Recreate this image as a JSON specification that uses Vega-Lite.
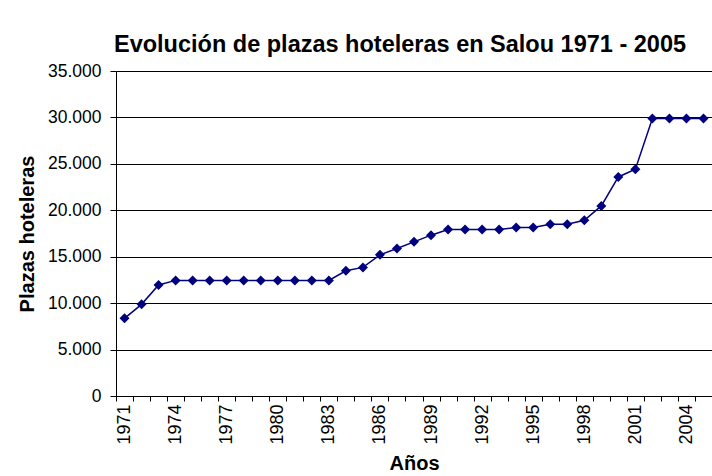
{
  "$schema": "https://vega.github.io/schema/vega-lite/v6.json",
  "width": 596,
  "height": 325,
  "autosize": {"type": "none"},
  "padding": {"left": 116, "top": 71, "right": 0, "bottom": 80},
  "background": "white",
  "title": {
    "text": "Evolución de plazas hoteleras en Salou 1971 - 2005",
    "font": "Liberation Sans",
    "fontSize": 23.5,
    "fontWeight": "bold",
    "color": "black",
    "anchor": "middle",
    "dx": -14,
    "offset": 6
  },
  "data": {
    "values": [
      {"year": 1971, "plazas": 8360},
      {"year": 1972, "plazas": 9870},
      {"year": 1973, "plazas": 11950},
      {"year": 1974, "plazas": 12450},
      {"year": 1975, "plazas": 12450},
      {"year": 1976, "plazas": 12450},
      {"year": 1977, "plazas": 12450},
      {"year": 1978, "plazas": 12450},
      {"year": 1979, "plazas": 12450},
      {"year": 1980, "plazas": 12450},
      {"year": 1981, "plazas": 12450},
      {"year": 1982, "plazas": 12450},
      {"year": 1983, "plazas": 12450},
      {"year": 1984, "plazas": 13480},
      {"year": 1985, "plazas": 13850},
      {"year": 1986, "plazas": 15200},
      {"year": 1987, "plazas": 15890},
      {"year": 1988, "plazas": 16600},
      {"year": 1989, "plazas": 17320},
      {"year": 1990, "plazas": 17930},
      {"year": 1991, "plazas": 17930},
      {"year": 1992, "plazas": 17930},
      {"year": 1993, "plazas": 17930},
      {"year": 1994, "plazas": 18150},
      {"year": 1995, "plazas": 18150},
      {"year": 1996, "plazas": 18500},
      {"year": 1997, "plazas": 18500},
      {"year": 1998, "plazas": 18930},
      {"year": 1999, "plazas": 20470},
      {"year": 2000, "plazas": 23590},
      {"year": 2001, "plazas": 24420},
      {"year": 2002, "plazas": 29880},
      {"year": 2003, "plazas": 29880},
      {"year": 2004, "plazas": 29880},
      {"year": 2005, "plazas": 29880}
    ]
  },
  "encoding": {
    "x": {
      "field": "year",
      "type": "ordinal",
      "scale": {"type": "band", "paddingInner": 0, "paddingOuter": 0},
      "axis": {
        "title": "Años",
        "titleFont": "Liberation Sans",
        "titleFontSize": 20,
        "titleFontWeight": "bold",
        "titleColor": "black",
        "titlePadding": 9,
        "labelFont": "Liberation Sans",
        "labelFontSize": 18,
        "labelColor": "black",
        "labelAngle": -90,
        "labelAlign": "right",
        "labelBaseline": "middle",
        "labelPadding": 3,
        "labelOverlap": false,
        "labelExpr": "(datum.value - 1971) % 3 == 0 ? datum.label : ''",
        "tickBand": "extent",
        "tickColor": "black",
        "tickSize": 5,
        "domainColor": "black",
        "grid": false
      }
    },
    "y": {
      "field": "plazas",
      "type": "quantitative",
      "scale": {"domain": [0, 35000], "nice": false},
      "axis": {
        "title": "Plazas hoteleras",
        "titleFont": "Liberation Sans",
        "titleFontSize": 20,
        "titleFontWeight": "bold",
        "titleColor": "black",
        "titlePadding": 10,
        "labelFont": "Liberation Sans",
        "labelFontSize": 17.5,
        "labelColor": "black",
        "labelPadding": 9,
        "values": [0, 5000, 10000, 15000, 20000, 25000, 30000, 35000],
        "labelExpr": "replace(format(datum.value, ',d'), ',', '.')",
        "tickColor": "black",
        "tickSize": 6,
        "domainColor": "black",
        "grid": true,
        "gridColor": "black",
        "gridOpacity": 1,
        "gridWidth": 1
      }
    }
  },
  "layer": [
    {"mark": {"type": "line", "color": "#000080", "strokeWidth": 1.5}},
    {"mark": {"type": "point", "shape": "diamond", "filled": true, "size": 100, "color": "#000080", "opacity": 1}}
  ],
  "config": {"view": {"stroke": null}}
}
